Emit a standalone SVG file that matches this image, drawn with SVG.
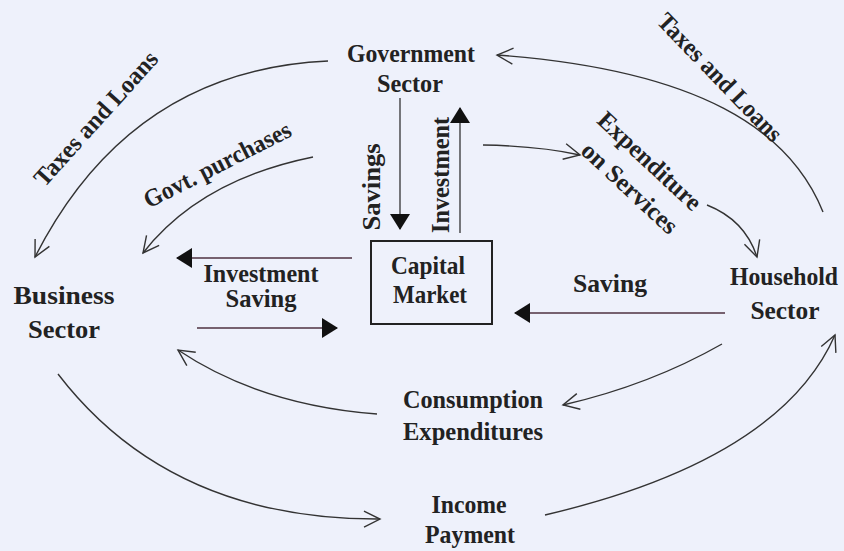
<svg xmlns="http://www.w3.org/2000/svg" width="844" height="551" viewBox="0 0 844 551">
<style>
text{font-family:"Liberation Serif","Times New Roman",serif;font-weight:bold;font-size:25px;fill:#222;text-anchor:middle}
.c{fill:none;stroke:#333;stroke-width:1.4}
.h{fill:none;stroke:#4e3040;stroke-width:1.6}
.s{fill:none;stroke:#333;stroke-width:1.3}
</style>
<defs>
<marker id="open" viewBox="0 0 20 20" refX="18" refY="10" markerWidth="20" markerHeight="20" markerUnits="userSpaceOnUse" orient="auto">
<path d="M2,2 L18,10 L2,18" fill="none" stroke="#333" stroke-width="1.4"/>
</marker>
<marker id="solid" viewBox="0 0 16 20" refX="15" refY="10" markerWidth="16" markerHeight="20" markerUnits="userSpaceOnUse" orient="auto">
<path d="M0,0 L16,10 L0,20 Z" fill="#111"/>
</marker>
</defs>
<rect width="844" height="551" fill="#eef1fb"/>

<g id="connectors">
<path class="c" d="M328,61 Q130,70 35,257" marker-end="url(#open)"/>
<path class="c" d="M823,212 C790,130 700,70 497,55" marker-end="url(#open)"/>
<path class="c" d="M313,157 Q200,180 143,253" marker-end="url(#open)"/>
<path class="c" d="M483,145 Q540,146 580,155" marker-end="url(#open)"/>
<path class="c" d="M707,205 Q745,220 757,257" marker-end="url(#open)"/>
<path class="s" d="M400,98 L400,229" marker-end="url(#solid)"/>
<path class="s" d="M460,233 L460,108" marker-end="url(#solid)"/>
<path class="h" d="M352,258 L177,258" marker-end="url(#solid)"/>
<path class="h" d="M197,328 L337,328" marker-end="url(#solid)"/>
<path class="h" d="M725,313 L515,313" marker-end="url(#solid)"/>
<path class="c" d="M722,344 Q650,385 563,405" marker-end="url(#open)"/>
<path class="c" d="M377,414 Q260,405 178,350" marker-end="url(#open)"/>
<path class="c" d="M58,374 Q170,520 380,519" marker-end="url(#open)"/>
<path class="c" d="M545,515 Q780,460 835,335" marker-end="url(#open)"/>
</g>

<g id="government">
<text x="411" y="62" textLength="128" lengthAdjust="spacingAndGlyphs">Government</text>
<text x="410" y="92" textLength="66" lengthAdjust="spacingAndGlyphs">Sector</text>
</g>
<g id="business">
<text x="64" y="304" textLength="101" lengthAdjust="spacingAndGlyphs">Business</text>
<text x="64" y="338" textLength="72" lengthAdjust="spacingAndGlyphs">Sector</text>
</g>
<g id="household">
<text x="784" y="285" textLength="108" lengthAdjust="spacingAndGlyphs">Household</text>
<text x="785" y="319" textLength="69" lengthAdjust="spacingAndGlyphs">Sector</text>
</g>
<g id="capital-market">
<rect x="371" y="241" width="121" height="83" fill="none" stroke="#222" stroke-width="2"/>
<text x="428" y="274" textLength="74" lengthAdjust="spacingAndGlyphs">Capital</text>
<text x="430" y="303" textLength="74" lengthAdjust="spacingAndGlyphs">Market</text>
</g>
<g id="consumption">
<text x="473" y="408" textLength="140" lengthAdjust="spacingAndGlyphs">Consumption</text>
<text x="473" y="440" textLength="140" lengthAdjust="spacingAndGlyphs">Expenditures</text>
</g>
<g id="income">
<text x="469" y="513" textLength="75" lengthAdjust="spacingAndGlyphs">Income</text>
<text x="470" y="543" textLength="90" lengthAdjust="spacingAndGlyphs">Payment</text>
</g>

<g id="labels">
<text transform="translate(102,124) rotate(-48)" textLength="172" lengthAdjust="spacingAndGlyphs">Taxes and Loans</text>
<text transform="translate(221,172) rotate(-27)" textLength="162" lengthAdjust="spacingAndGlyphs">Govt. purchases</text>
<text transform="translate(380,187) rotate(-90)" textLength="87" lengthAdjust="spacingAndGlyphs">Savings</text>
<text transform="translate(449,175) rotate(-90)" textLength="116" lengthAdjust="spacingAndGlyphs">Investment</text>
<text transform="translate(714,83) rotate(46)" textLength="168" lengthAdjust="spacingAndGlyphs">Taxes and Loans</text>
<text transform="translate(644,167) rotate(43)" textLength="132" lengthAdjust="spacingAndGlyphs">Expenditure</text>
<text transform="translate(624,194) rotate(43)" textLength="122" lengthAdjust="spacingAndGlyphs">on Services</text>
<text x="261" y="282" textLength="115" lengthAdjust="spacingAndGlyphs">Investment</text>
<text x="261" y="307" textLength="71" lengthAdjust="spacingAndGlyphs">Saving</text>
<text x="610" y="292" textLength="74" lengthAdjust="spacingAndGlyphs">Saving</text>
</g>
</svg>
